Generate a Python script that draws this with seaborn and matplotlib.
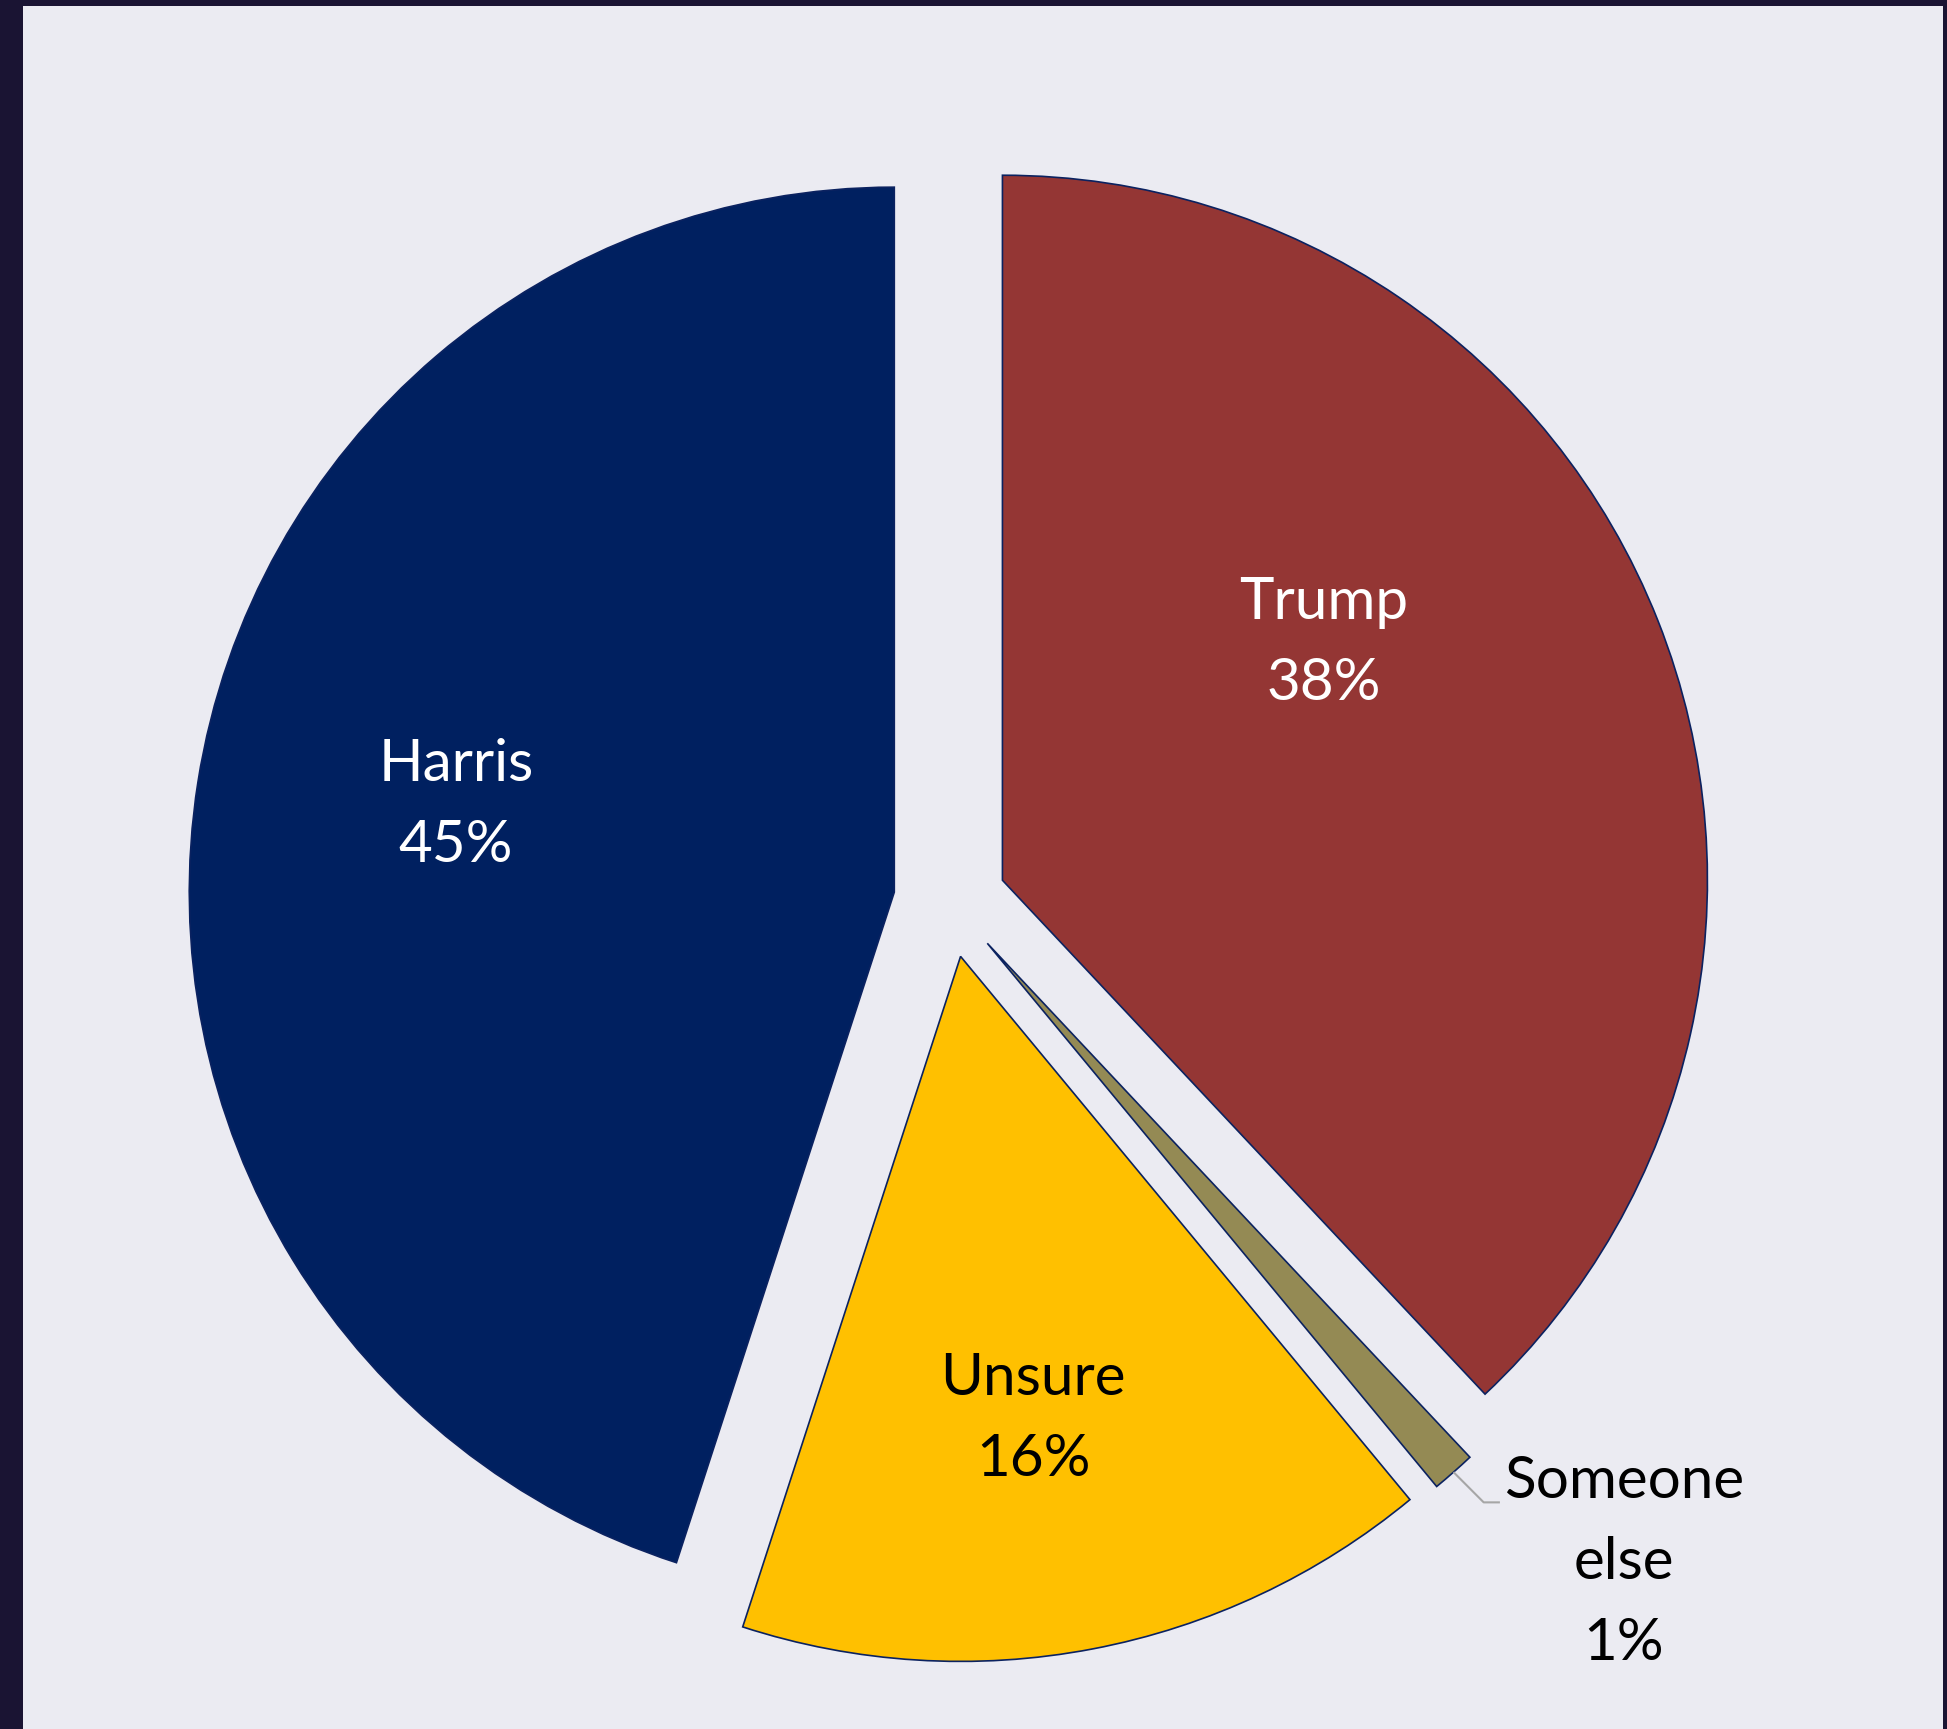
import matplotlib
matplotlib.use("Agg")
import matplotlib.pyplot as plt
import numpy as np
import seaborn as sns

# ── Data ──────────────────────────────────────────────────────────────────────
candidates = ["Trump", "Someone\nelse", "Unsure", "Harris"]
shares = [38, 1, 16, 45]
colors = ["#943634", "#948A54", "#FFC000", "#002060"]
text_colors = ["white", "black", "black", "white"]

sns.set_theme(style="darkgrid")
plt.rcParams["font.family"] = ["Lato", "DejaVu Sans"]

W, H = 1947, 1729
fig = plt.figure(figsize=(W / 100, H / 100), dpi=100, facecolor="#1A1433")

# axes occupies the light area (dark strip left, thin strips top/right)
left_px, right_px, top_px = 23, 4, 6
ax = fig.add_axes([left_px / W, 0, (W - left_px - right_px) / W, (H - top_px) / H])

wedges, _ = ax.pie(
    shares, colors=colors, startangle=90, counterclock=False,
    explode=[0.08] * len(shares),
    wedgeprops=dict(edgecolor="#0B2260", linewidth=1.2),
)

# pie() switches the frame off; turn it back on so the background shows
ax.set_frame_on(True)
ax.set_facecolor("#EBEBF2")

# limits chosen so 1 unit = 705 px, pie centre at (950, 901) px from top-left
scale = 705
cx, cy = 950, 901
ax.set_xlim((left_px - cx) / scale, (W - right_px - cx) / scale)
ax.set_ylim(-(H - cy) / scale, (cy - top_px) / scale)
ax.set_aspect("equal")
ax.grid(False)
ax.set_xticks([])
ax.set_yticks([])
for s in ax.spines.values():
    s.set_visible(False)

# ── Labels ────────────────────────────────────────────────────────────────────
label_pos = [(0.530, 0.366), (0.956, -0.938), (0.118, -0.735), (-0.701, 0.136)]
for name, val, tc, (lx, ly) in zip(candidates, shares, text_colors, label_pos):
    ax.text(lx, ly, f"{name}\n{val}%", ha="center", va="center", color=tc,
            fontsize=42, linespacing=1.65)

# leader line for the thin slice
w = wedges[1]
mid = np.deg2rad((w.theta1 + w.theta2) / 2)
x0 = w.center[0] + w.r * np.cos(mid)
y0 = w.center[1] + w.r * np.sin(mid)
ax.plot([x0, 0.757, 0.780], [y0, -0.853, -0.853], color="#A6A6A6", lw=1.5,
        solid_capstyle="butt")

fig.savefig("out.png", dpi=100, facecolor=fig.get_facecolor())
